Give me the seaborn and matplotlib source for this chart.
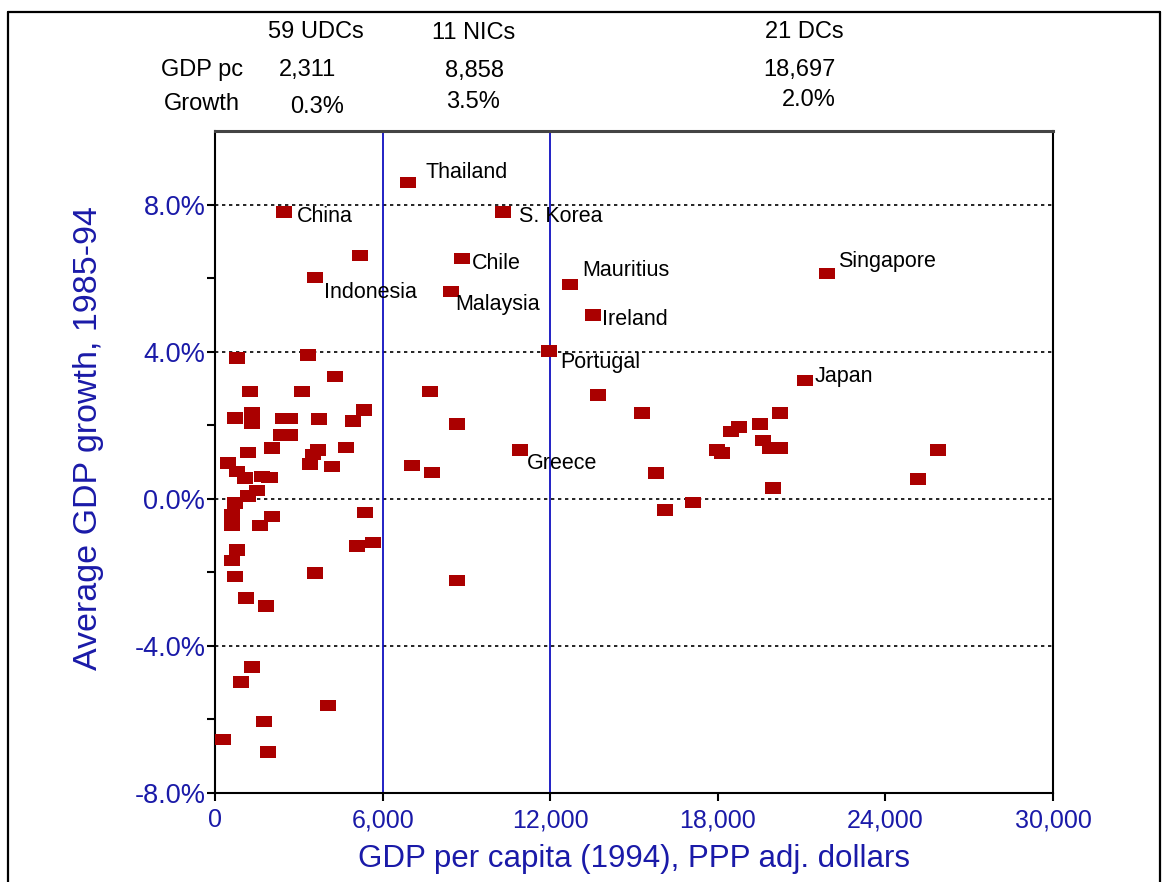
"""GDP per capita (1994) vs average GDP growth 1985-94, UDC / NIC / DC split."""

import matplotlib.pyplot as plt
import pandas as pd
import seaborn as sns
from matplotlib.lines import Line2D
from matplotlib.markers import MarkerStyle
from matplotlib.ticker import FuncFormatter

# labelled countries: GDP pc (PPP $, 1994), avg growth 1985-94 (%)
label_names = ["Thailand", "China", "S. Korea", "Chile", "Indonesia", "Malaysia",
               "Mauritius", "Singapore", "Ireland", "Portugal", "Japan", "Greece"]
label_gdp = [6900, 2480, 10300, 8840, 3590, 8460,
             12690, 21910, 13520, 11970, 21130, 10920]
label_growth = [8.6, 7.8, 7.8, 6.53, 6.02, 5.63,
                5.83, 6.13, 5.0, 4.02, 3.21, 1.33]

# all the other countries
other_gdp = [5200, 780, 3320, 4300, 1250, 3130, 7690, 13720, 720, 1310,
             1310, 2420, 2690, 3710, 4950, 5330, 8650, 2350, 2690, 2050,
             1190, 3700, 3520, 3400, 4690, 4180, 7040, 7760, 480, 780,
             1070, 1670, 1950, 1490, 1190, 720, 600, 600, 1610, 2030,
             5370, 5070, 5670, 780, 600, 720, 3580, 8650, 1110, 1830,
             1310, 920, 4030, 1770, 270, 1890,
             15290, 20230, 19510, 18740, 18460, 19630, 19850, 20230, 17960, 18140,
             25870, 25160, 19970, 15800, 17100, 16120]
other_growth = [6.62, 3.83, 3.91, 3.32, 2.92, 2.92, 2.92, 2.82, 2.19, 2.33,
                2.05, 2.18, 2.18, 2.17, 2.12, 2.42, 2.03, 1.74, 1.74, 1.38,
                1.26, 1.33, 1.20, 0.95, 1.39, 0.88, 0.90, 0.72, 0.97, 0.74,
                0.56, 0.61, 0.58, 0.22, 0.08, -0.12, -0.43, -0.71, -0.73, -0.48,
                -0.37, -1.28, -1.19, -1.39, -1.68, -2.11, -2.02, -2.22, -2.70, -2.91,
                -4.58, -4.98, -5.62, -6.05, -6.55, -6.89,
                2.33, 2.33, 2.04, 1.95, 1.83, 1.59, 1.38, 1.38, 1.33, 1.24,
                1.33, 0.54, 0.30, 0.70, -0.10, -0.30]

# group summary shown above the plot
groups = ["59 UDCs", "11 NICs", "21 DCs"]
group_gdp = ["2,311", "8,858", "18,697"]
group_growth = ["0.3%", "3.5%", "2.0%"]
group_bounds = [6000, 12000]

df = pd.concat([
    pd.DataFrame({"gdp": label_gdp, "growth": label_growth, "name": label_names}),
    pd.DataFrame({"gdp": other_gdp, "growth": other_growth, "name": ""}),
], ignore_index=True)

sns.set_theme(style="white")
plt.rcParams["font.family"] = ["Liberation Sans", "DejaVu Sans"]

BLUE = "#1a1aa8"
RED = "#aa0000"

fig = plt.figure(figsize=(11.68, 8.82), dpi=100)
ax = fig.add_axes([0.1841, 0.1009, 0.7175, 0.7506])

# flat rectangle marker
rect = MarkerStyle([(-1, -0.72), (1, -0.72), (1, 0.72), (-1, 0.72), (-1, -0.72)])

for v in [8, 4, 0, -4]:
    ax.axhline(v, color="black", linestyle=(0, (2, 2.2)), linewidth=1.2, zorder=1)
for b in group_bounds:
    ax.axvline(b, color="#1010c0", linewidth=1.3, zorder=1)

sns.scatterplot(data=df, x="gdp", y="growth", marker=rect, s=133,
                color=RED, edgecolor="none", linewidth=0, ax=ax, zorder=3)

# label offsets in points (dx, dy)
offsets = {
    "Thailand": (13, 7), "China": (9, -3.5), "S. Korea": (12, -3.5),
    "Chile": (7, -3.5), "Indonesia": (6, -11), "Malaysia": (3, -9.5),
    "Mauritius": (9.5, 10), "Singapore": (8, 8.5), "Ireland": (7, -3),
    "Portugal": (8, -8.5), "Japan": (7, 3), "Greece": (5, -10),
}
for _, row in df[df["name"] != ""].iterrows():
    ax.annotate(row["name"], (row["gdp"], row["growth"]),
                textcoords="offset points", xytext=offsets[row["name"]],
                ha="left", va="center", fontsize=15.5, color="black", zorder=4)

ax.set_xlim(0, 30000)
ax.set_ylim(-8, 10)
ax.set_xticks(range(0, 30001, 6000))
ax.xaxis.set_major_formatter(FuncFormatter(lambda v, p: f"{int(v):,}"))
ax.set_yticks(range(-8, 9, 2))
ax.set_yticklabels([f"{t:.1f}%" if t % 4 == 0 else "" for t in range(-8, 9, 2)])
ax.tick_params(axis="both", direction="out", length=6, width=1.5, color="black",
               labelcolor=BLUE)
ax.tick_params(axis="y", pad=1, labelsize=19.5)
ax.tick_params(axis="x", pad=5, labelsize=18)
ax.tick_params(left=True, bottom=True)
for side, sp in ax.spines.items():
    sp.set_color("black")
    sp.set_linewidth(1.5)
ax.spines["top"].set_color("#444444")
ax.spines["top"].set_linewidth(2.2)

ax.set_xlabel("GDP per capita (1994), PPP adj. dollars", fontsize=22.5, color=BLUE)
ax.set_ylabel("Average GDP growth, 1985-94", fontsize=24.5, color=BLUE)
ax.xaxis.set_label_coords(0.5, -0.077)
ax.yaxis.set_label_coords(-0.133, 0.536)

# group summary header
W, H = 1168, 882
rows = [("", groups, 32), ("GDP pc", group_gdp, 70), ("Growth", group_growth, 104)]
col_x = [[316, 474, 804], [308, 474, 799], [317, 473, 809]]
row_dy = [[0, 1, 0], [0, 1, 0], [3, -2, -4]]
for (title, vals, y), xs, dys in zip(rows, col_x, row_dy):
    if title:
        fig.text(202 / W, 1 - y / H, title, ha="center", va="center",
                 fontsize=17, color="black")
    for v, x, dy in zip(vals, xs, dys):
        fig.text(x / W, 1 - (y + dy) / H, v, ha="center", va="center",
                 fontsize=17, color="black")

# outer frame (left, top, right)
fx0, fx1, fy = 8 / W, 1160 / W, 1 - 12 / H
for xs, ys in [([fx0, fx0], [0, fy]), ([fx0, fx1], [fy, fy]), ([fx1, fx1], [fy, 0])]:
    fig.add_artist(Line2D(xs, ys, color="black", linewidth=1.6))

fig.savefig("out.png", dpi=100)
